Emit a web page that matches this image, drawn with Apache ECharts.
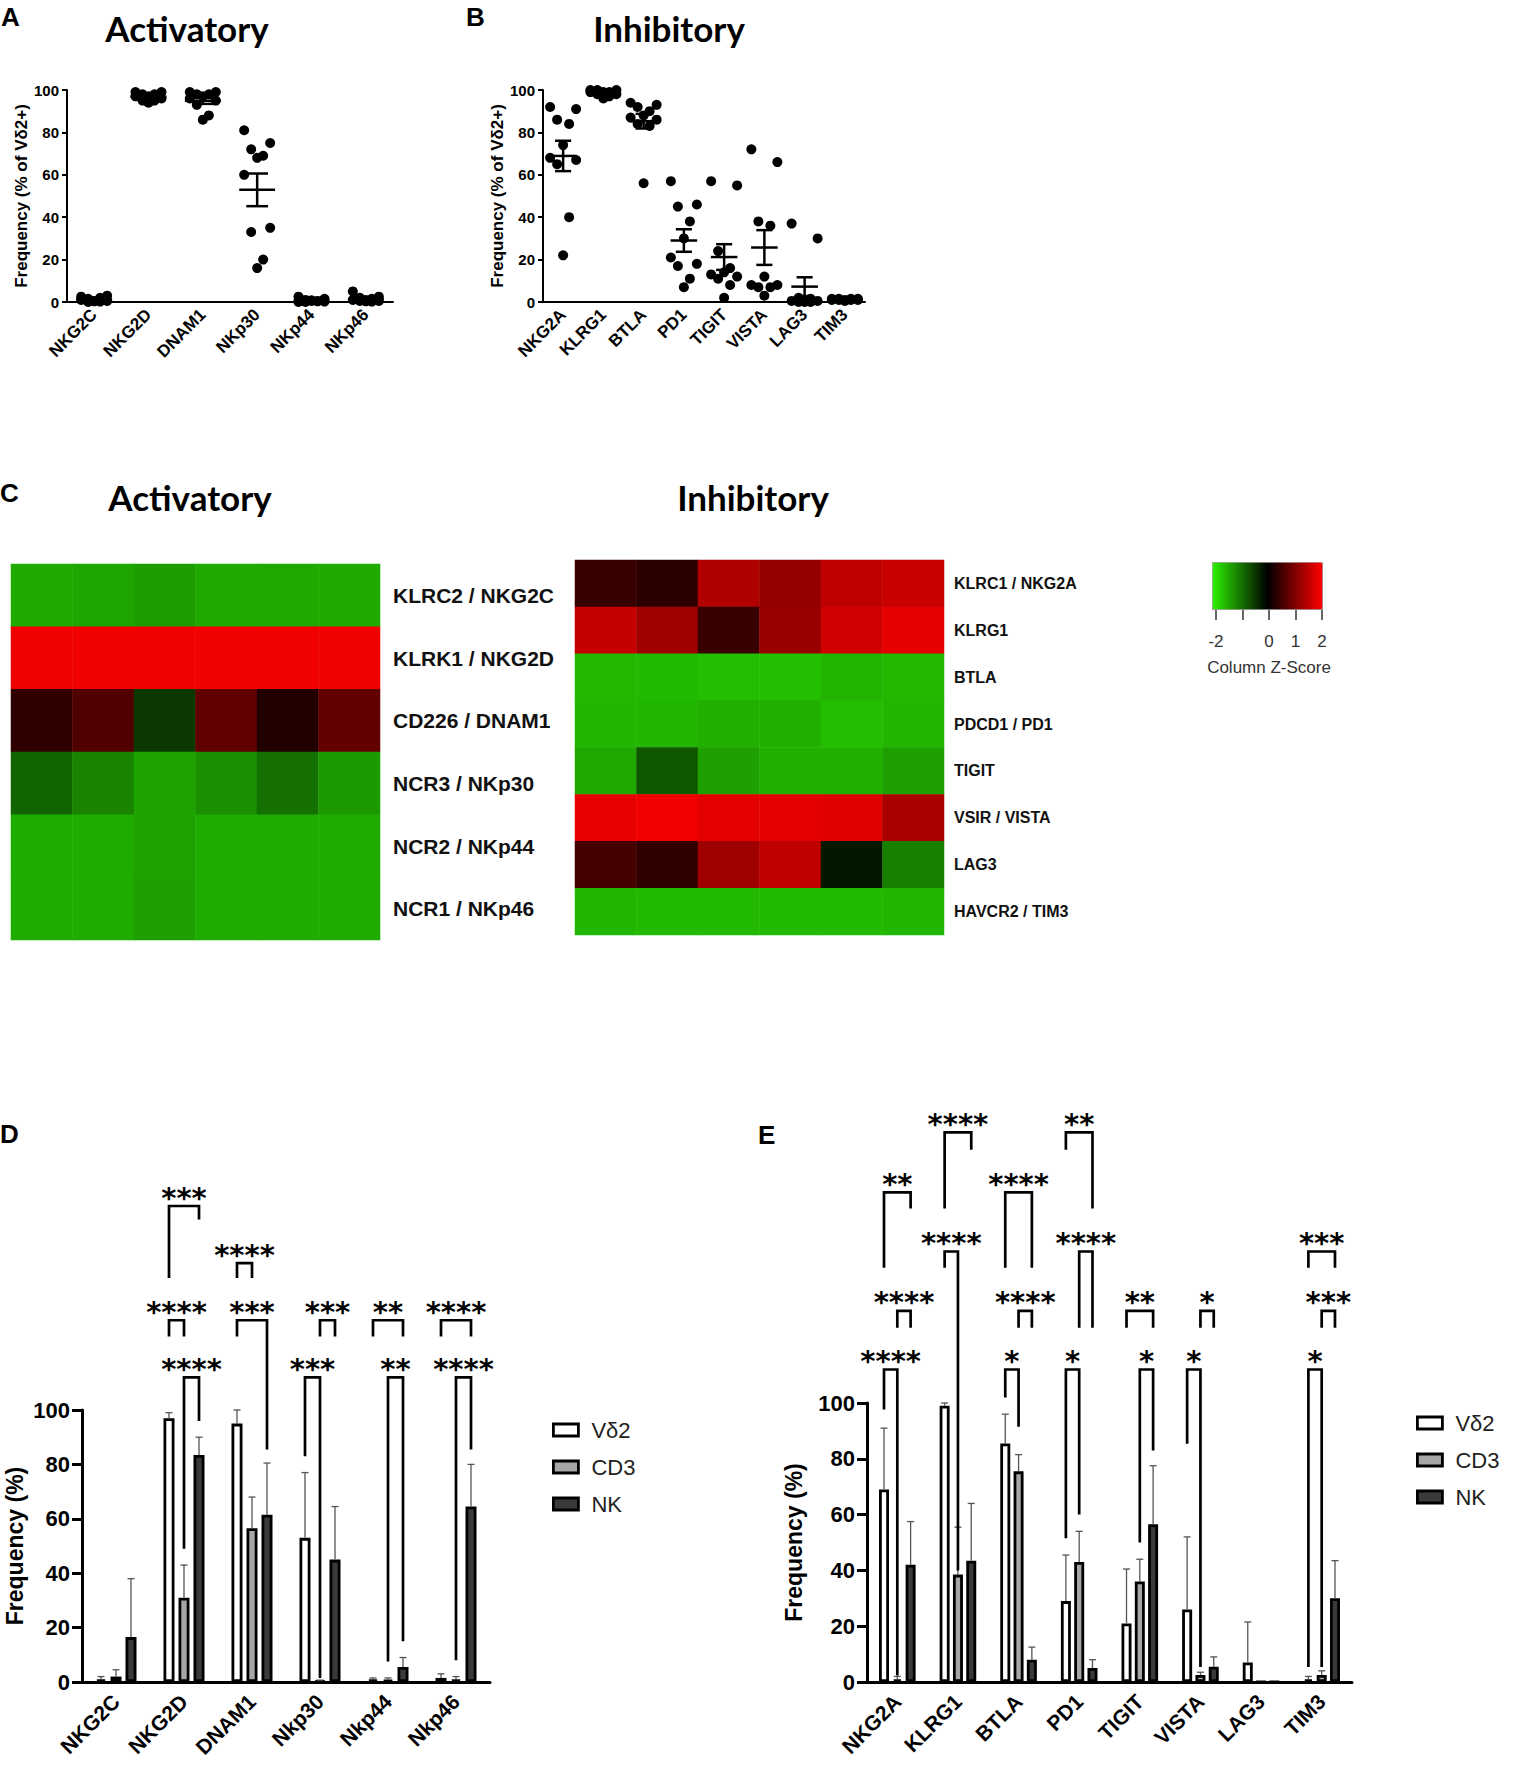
<!DOCTYPE html>
<html>
<head>
<meta charset="utf-8">
<script src="https://cdn.jsdelivr.net/npm/echarts@6/dist/echarts.min.js"></script>
<style>
html, body { margin: 0; padding: 0; background: #fff; }
#main { width: 1516px; height: 1775px; }
</style>
</head>
<body>
<div id="main"></div>
<script>
// ---------------- data ----------------
// A: activatory receptors, % of Vd2+ (10 donors each)
var actMarkers = ['NKG2C', 'NKG2D', 'DNAM1', 'NKp30', 'NKp44', 'NKp46'];
var actPoints = [
  [2.5, 3, 1.5, 2, 0.5, 1, 0.5, 0, 0.2, 0.3],
  [99, 99, 98, 98, 97, 97, 96, 95, 95, 94],
  [99, 99, 98, 98, 97, 96, 95, 93, 88, 86],
  [81, 75, 72, 69, 68, 60, 35, 33, 20, 16],
  [2.5, 1.5, 1, 0.5, 0.5, 0, 0.2, 0, 0.3, 0.8],
  [5, 2.5, 2, 1.5, 1, 1, 0.5, 0.5, 0.2, 0.3]
];
// B: inhibitory receptors
var inhMarkers = ['NKG2A', 'KLRG1', 'BTLA', 'PD1', 'TIGIT', 'VISTA', 'LAG3', 'TIM3'];
var inhPoints = [
  [92, 91, 86, 84, 74, 68, 67, 65, 40, 22],
  [100, 100, 100, 99, 99, 99, 98, 98, 97, 96],
  [94, 93, 92, 90, 88, 87, 86, 84, 83, 56],
  [57, 46, 45, 38, 30, 21, 18, 17, 11, 7],
  [57, 55, 24, 16, 14, 13, 12, 11, 8, 2],
  [72, 66, 38, 36, 12, 8, 8, 7, 7, 3],
  [37, 30, 2, 1.5, 1, 0.5, 0.5, 0, 0, 0],
  [1.5, 1.5, 1.5, 1.5, 1, 1, 1, 1, 1, 0.5]
];

// C: column z-scores (rows = genes, 6 donors)
var actGenes = ['KLRC2 / NKG2C', 'KLRK1 / NKG2D', 'CD226 / DNAM1', 'NCR3 / NKp30', 'NCR2 / NKp44', 'NCR1 / NKp46'];
var actZ = [
  [-1.42, -1.38, -1.32, -1.42, -1.40, -1.42],
  [1.88, 1.88, 1.88, 1.88, 1.88, 1.88],
  [0.38, 0.63, -0.47, 0.75, 0.27, 0.77],
  [-0.83, -1.10, -1.36, -1.19, -0.93, -1.28],
  [-1.43, -1.43, -1.35, -1.43, -1.43, -1.43],
  [-1.43, -1.43, -1.33, -1.43, -1.43, -1.43]
];
var inhGenes = ['KLRC1 / NKG2A', 'KLRG1', 'BTLA', 'PDCD1 / PD1', 'TIGIT', 'VSIR / VISTA', 'LAG3', 'HAVCR2 / TIM3'];
var inhZ = [
  [0.45, 0.35, 1.38, 1.18, 1.50, 1.57],
  [1.54, 1.25, 0.45, 1.19, 1.63, 1.80],
  [-1.53, -1.55, -1.58, -1.58, -1.50, -1.53],
  [-1.52, -1.52, -1.47, -1.47, -1.58, -1.52],
  [-1.40, -0.73, -1.33, -1.47, -1.47, -1.33],
  [1.82, 1.90, 1.80, 1.79, 1.76, 1.33],
  [0.56, 0.38, 1.25, 1.50, -0.20, -1.07],
  [-1.52, -1.55, -1.55, -1.55, -1.55, -1.52]
];
var donors = ['1', '2', '3', '4', '5', '6'];
var zTicks = [-2, -1, 0, 1, 2];

// D: activatory, mean + SD per cell type
var groups = ['Vδ2', 'CD3', 'NK'];
var dMarkers = ['NKG2C', 'NKG2D', 'DNAM1', 'Nkp30', 'Nkp44', 'Nkp46'];
var dVd2 = [1, 97, 95, 53, 1, 1.5];
var dVd2Err = [1, 2, 5, 24, 0.5, 1.5];
var dCD3 = [2, 31, 56.5, 0.5, 0.8, 1];
var dCD3Err = [2.5, 12, 11.5, 0.2, 0.7, 1];
var dNK = [16.5, 83.5, 61.5, 45, 5.5, 64.5];
var dNKErr = [21.5, 6.5, 19, 19.5, 3.5, 15.5];
// [category, from group, to group, bracket top, left leg end, right leg end, stars]
var dSig = [
  [1, 1, 2, 112, 49, 96, '****'],
  [1, 0, 1, 133, 127, 127, '****'],
  [1, 0, 2, 175, 148.5, 170, '***'],
  [2, 0, 1, 154, 148.5, 148.5, '****'],
  [2, 0, 2, 133, 127, 85.5, '***'],
  [3, 0, 1, 112, 83, 1.5, '***'],
  [3, 1, 2, 133, 127, 127, '***'],
  [4, 0, 2, 133, 127, 127, '**'],
  [4, 1, 2, 112, 7.5, 15, '**'],
  [5, 0, 2, 133, 127, 127, '****'],
  [5, 1, 2, 112, 8, 85.5, '****']
];

// E: inhibitory, mean + SD per cell type
var eMarkers = ['NKG2A', 'KLRG1', 'BTLA', 'PD1', 'TIGIT', 'VISTA', 'LAG3', 'TIM3'];
var eVd2 = [69, 99, 85.5, 29, 21, 26, 7, 1];
var eVd2Err = [22, 1, 10.5, 16.5, 19.5, 26, 14.5, 1];
var eCD3 = [1, 38.5, 75.5, 43, 36, 2.5, 0, 2.5];
var eCD3Err = [1, 17, 6, 11, 8, 1, 0, 1.5];
var eNK = [42, 43.5, 8, 5, 56.5, 5.5, 0, 30];
var eNKErr = [15.5, 20.5, 4.5, 3, 21, 3.5, 0, 13.5];
var eSig = [
  [0, 0, 1, 112, 97.7, 2.3, '****'],
  [0, 1, 2, 133, 127, 127, '****'],
  [0, 0, 2, 175.5, 148.5, 169.7, '**'],
  [1, 0, 1, 154.3, 148.5, 40, '****'],
  [1, 0, 2, 197, 169.7, 190.8, '****'],
  [2, 0, 1, 112, 102, 91.5, '*'],
  [2, 1, 2, 133, 127, 127, '****'],
  [2, 0, 2, 175.5, 148.5, 148.5, '****'],
  [3, 0, 1, 112, 51.5, 60, '*'],
  [3, 1, 2, 154.3, 127, 127, '****'],
  [3, 0, 2, 197, 190.8, 169.7, '**'],
  [4, 1, 2, 112, 50, 83, '*'],
  [4, 0, 2, 133, 127, 127, '**'],
  [5, 0, 1, 112, 85.4, 5.4, '*'],
  [5, 1, 2, 133, 127, 127, '*'],
  [7, 0, 1, 112, 5.4, 5.4, '*'],
  [7, 1, 2, 133, 127, 127, '***'],
  [7, 0, 2, 154.3, 148.5, 148.5, '***']
];

// ---------------- styling ----------------
var F = 'Liberation Sans';
var JITTER = [-13, 13, -6, 6, 0, -13, 13, -6, 6, 0];
var BAR_FILL = ['#ffffff', '#a6a6a6', '#3a3a3a'];
var D_BAR = { width: 11, gap: 0.364 };
var E_BAR = { width: 10, gap: 0.33 };

function meanSem(arr) {
  var n = arr.length, m = 0, s = 0;
  arr.forEach(function (v) { m += v; });
  m = m / n;
  arr.forEach(function (v) { s += (v - m) * (v - m); });
  return [m, Math.sqrt(s / (n - 1)) / Math.sqrt(n)];
}

function scatterData(points) {
  var res = [];
  points.forEach(function (list, i) {
    list.forEach(function (v, j) {
      res.push({ value: [i, v], symbolOffset: [JITTER[j % JITTER.length], 0] });
    });
  });
  return res;
}

function meanData(points) {
  return points.map(function (list, i) {
    var ms = meanSem(list);
    return [i, ms[0], ms[1]];
  });
}

function renderMeanSem(params, api) {
  var cat = api.value(0), m = api.value(1), e = api.value(2);
  var c = api.coord([cat, m]);
  var hi = api.coord([cat, m + e]);
  var lo = api.coord([cat, m - e]);
  var bw = api.size([1, 0])[0];
  var st = { stroke: '#000', lineWidth: 2.5 };
  return {
    type: 'group',
    children: [
      { type: 'line', shape: { x1: c[0] - bw * 0.33, y1: c[1], x2: c[0] + bw * 0.33, y2: c[1] }, style: st },
      { type: 'line', shape: { x1: c[0], y1: hi[1], x2: c[0], y2: lo[1] }, style: st },
      { type: 'line', shape: { x1: c[0] - bw * 0.2, y1: hi[1], x2: c[0] + bw * 0.2, y2: hi[1] }, style: st },
      { type: 'line', shape: { x1: c[0] - bw * 0.2, y1: lo[1], x2: c[0] + bw * 0.2, y2: lo[1] }, style: st }
    ]
  };
}

function heatData(z) {
  var res = [];
  z.forEach(function (row, r) {
    row.forEach(function (v, c) { res.push([c, r, v]); });
  });
  return res;
}

function errData(lists) {
  var res = [];
  lists.forEach(function (pair, g) {
    pair[0].forEach(function (v, i) { res.push([i, g, v, pair[1][i]]); });
  });
  return res;
}

function makeErrRender(bar) {
  var step = bar.width * (1 + bar.gap);
  return function (params, api) {
    var cat = api.value(0), g = api.value(1), v = api.value(2), e = api.value(3);
    if (!e) return null;
    var base = api.coord([cat, v]);
    var top = api.coord([cat, v + e]);
    var x = base[0] + (g - 1) * step;
    var st = { stroke: '#555', lineWidth: 1.3 };
    return {
      type: 'group',
      children: [
        { type: 'line', shape: { x1: x, y1: base[1], x2: x, y2: top[1] }, style: st },
        { type: 'line', shape: { x1: x - 3.5, y1: top[1], x2: x + 3.5, y2: top[1] }, style: st }
      ]
    };
  };
}

function makeSigRender(list, bar) {
  var step = bar.width * (1 + bar.gap);
  return function (params, api) {
    var s = list[params.dataIndex];
    var cx = api.coord([s[0], 0])[0];
    var xa = cx + (s[1] - 1) * step, xb = cx + (s[2] - 1) * step;
    var yt = api.coord([s[0], s[3]])[1];
    var ya = api.coord([s[0], s[4]])[1];
    var yb = api.coord([s[0], s[5]])[1];
    return {
      type: 'group',
      children: [
        { type: 'polyline', shape: { points: [[xa, ya], [xa, yt], [xb, yt], [xb, yb]] },
          style: { stroke: '#000', lineWidth: 2.7, fill: null, lineJoin: 'miter' } },
        { type: 'text', x: (xa + xb) / 2, y: yt + 6,
          style: { text: s[6], font: 'bold 29px "DejaVu Sans"', fill: '#000', textAlign: 'center', textVerticalAlign: 'bottom' } }
      ]
    };
  };
}

function dotXAxis(gi, data) {
  return {
    type: 'category', gridIndex: gi, data: data,
    axisLine: { lineStyle: { color: '#000', width: 2 } },
    axisTick: { alignWithLabel: true, length: 7, lineStyle: { color: '#000', width: 2 } },
    axisLabel: { interval: 0, rotate: 45, fontFamily: F, fontWeight: 'bold', fontSize: 17, color: '#000', margin: 10 }
  };
}
function dotYAxis(gi) {
  return {
    type: 'value', gridIndex: gi, min: 0, max: 100, interval: 20,
    name: 'Frequency (% of Vδ2+)', nameLocation: 'middle', nameGap: 36,
    nameTextStyle: { fontFamily: F, fontWeight: 'bold', fontSize: 17, color: '#000' },
    axisLine: { show: true, lineStyle: { color: '#000', width: 2 } },
    axisTick: { show: true, length: 5, lineStyle: { color: '#000', width: 2 } },
    axisLabel: { fontFamily: F, fontWeight: 'bold', fontSize: 15, color: '#000', margin: 8 },
    splitLine: { show: false }
  };
}
function barXAxis(gi, data) {
  return {
    type: 'category', gridIndex: gi, data: data,
    axisLine: { lineStyle: { color: '#000', width: 3 } },
    axisTick: { alignWithLabel: true, length: 12, lineStyle: { color: '#000', width: 3.5 } },
    axisLabel: { interval: 0, rotate: 45, fontFamily: F, fontWeight: 'bold', fontSize: 21, color: '#000', margin: 16 }
  };
}
function barYAxis(gi, gap) {
  return {
    type: 'value', gridIndex: gi, min: 0, max: 100, interval: 20,
    name: 'Frequency (%)', nameLocation: 'middle', nameGap: gap,
    nameTextStyle: { fontFamily: F, fontWeight: 'bold', fontSize: 23, color: '#000' },
    axisLine: { show: true, lineStyle: { color: '#000', width: 3 } },
    axisTick: { show: true, length: 10, lineStyle: { color: '#000', width: 3 } },
    axisLabel: { fontFamily: F, fontWeight: 'bold', fontSize: 22, color: '#000', margin: 12 },
    splitLine: { show: false }
  };
}
function heatXAxis(gi) {
  return { type: 'category', gridIndex: gi, data: donors, show: false };
}
function heatYAxis(gi, genes, size, margin) {
  return {
    type: 'category', gridIndex: gi, data: genes, inverse: true, position: 'right',
    axisLine: { show: false }, axisTick: { show: false },
    axisLabel: { fontFamily: F, fontWeight: 'bold', fontSize: size, color: '#111', margin: margin }
  };
}

function barSeries(name, gi, values, fill, bar) {
  return {
    name: name, type: 'bar', xAxisIndex: gi, yAxisIndex: gi, data: values,
    barWidth: bar.width, barGap: (bar.gap * 100) + '%',
    itemStyle: { color: fill, borderColor: '#000', borderWidth: 2.8 }
  };
}

var dotStyle = { color: '#000', opacity: 1 };
var series = [
  { type: 'scatter', xAxisIndex: 0, yAxisIndex: 0, data: scatterData(actPoints), symbol: 'circle', symbolSize: 10, itemStyle: dotStyle },
  { type: 'custom', xAxisIndex: 0, yAxisIndex: 0, data: meanData(actPoints), renderItem: renderMeanSem, clip: false, z: 3 },
  { type: 'scatter', xAxisIndex: 1, yAxisIndex: 1, data: scatterData(inhPoints), symbol: 'circle', symbolSize: 10, itemStyle: dotStyle },
  { type: 'custom', xAxisIndex: 1, yAxisIndex: 1, data: meanData(inhPoints), renderItem: renderMeanSem, clip: false, z: 3 },
  { type: 'heatmap', xAxisIndex: 2, yAxisIndex: 2, data: heatData(actZ), itemStyle: { borderWidth: 0 } },
  { type: 'heatmap', xAxisIndex: 3, yAxisIndex: 3, data: heatData(inhZ), itemStyle: { borderWidth: 0 } },
  barSeries(groups[0], 4, dVd2, BAR_FILL[0], D_BAR),
  barSeries(groups[1], 4, dCD3, BAR_FILL[1], D_BAR),
  barSeries(groups[2], 4, dNK, BAR_FILL[2], D_BAR),
  { type: 'custom', xAxisIndex: 4, yAxisIndex: 4, clip: false, z: 3,
    data: errData([[dVd2, dVd2Err], [dCD3, dCD3Err], [dNK, dNKErr]]), renderItem: makeErrRender(D_BAR) },
  { type: 'custom', xAxisIndex: 4, yAxisIndex: 4, clip: false, z: 4,
    data: dSig.map(function (s) { return [s[0], s[3]]; }), renderItem: makeSigRender(dSig, D_BAR) },
  barSeries(groups[0], 5, eVd2, BAR_FILL[0], E_BAR),
  barSeries(groups[1], 5, eCD3, BAR_FILL[1], E_BAR),
  barSeries(groups[2], 5, eNK, BAR_FILL[2], E_BAR),
  { type: 'custom', xAxisIndex: 5, yAxisIndex: 5, clip: false, z: 3,
    data: errData([[eVd2, eVd2Err], [eCD3, eCD3Err], [eNK, eNKErr]]), renderItem: makeErrRender(E_BAR) },
  { type: 'custom', xAxisIndex: 5, yAxisIndex: 5, clip: false, z: 4,
    data: eSig.map(function (s) { return [s[0], s[3]]; }), renderItem: makeSigRender(eSig, E_BAR) }
];

function label(text, x, y, font, align) {
  return { type: 'text', x: x, y: y, style: { text: text, font: font, fill: '#000', textAlign: align || 'left', textVerticalAlign: 'top' } };
}
var LETTER = 'bold 26px "Liberation Sans"';
var TITLE = 'bold 35px Lato';

var option = {
  animation: false,
  backgroundColor: '#fff',
  textStyle: { fontFamily: F },
  graphic: [
    label('A', 1, 4, LETTER),
    label('B', 466, 4, LETTER),
    label('C', 0, 480, LETTER),
    label('D', 0, 1121, LETTER),
    label('E', 758, 1122, LETTER),
    label('Activatory', 187, 10, TITLE, 'center'),
    label('Inhibitory', 669, 10, TITLE, 'center'),
    label('Activatory', 190, 479, TITLE, 'center'),
    label('Inhibitory', 753, 479, TITLE, 'center')
  ],
  grid: [
    { left: 67, top: 90, width: 326, height: 212 },
    { left: 543, top: 90, width: 322, height: 212 },
    { left: 11, top: 564, width: 369, height: 376 },
    { left: 575, top: 560, width: 369, height: 375 },
    { left: 82, top: 1410, width: 408, height: 272 },
    { left: 867, top: 1403, width: 485, height: 279 },
    { left: 1216, top: 562, width: 106, height: 47 }
  ],
  xAxis: [
    dotXAxis(0, actMarkers),
    dotXAxis(1, inhMarkers),
    heatXAxis(2),
    heatXAxis(3),
    barXAxis(4, dMarkers),
    barXAxis(5, eMarkers),
    {
      type: 'value', gridIndex: 6, min: zTicks[0], max: zTicks[zTicks.length - 1], interval: 1,
      name: 'Column Z-Score', nameLocation: 'middle', nameGap: 50,
      nameTextStyle: { fontFamily: F, fontSize: 17, color: '#333' },
      axisLine: { show: false },
      axisTick: { show: true, length: 11, lineStyle: { color: '#333', width: 1.5 } },
      axisLabel: { fontFamily: F, fontSize: 17, color: '#333', margin: 24,
        formatter: function (v) { return v === -1 ? '' : String(v); } },
      splitLine: { show: false }
    }
  ],
  yAxis: [
    dotYAxis(0),
    dotYAxis(1),
    heatYAxis(2, actGenes, 21, 13),
    heatYAxis(3, inhGenes, 16, 10),
    barYAxis(4, 56),
    barYAxis(5, 62),
    { type: 'value', gridIndex: 6, min: 0, max: 1, show: false }
  ],
  visualMap: {
    type: 'continuous', min: -2, max: 2, seriesIndex: [4, 5],
    orient: 'horizontal', left: 1212, top: 562, itemWidth: 47, itemHeight: 110,
    calculable: false, hoverLink: false, padding: 0,
    borderColor: '#999', borderWidth: 1,
    inRange: { color: ['#2cf000', '#000000', '#ff0000'] }
  },
  legend: [
    { orient: 'vertical', left: 552, top: 1419, padding: 0, data: groups, icon: 'rect', selectedMode: false,
      itemWidth: 25, itemHeight: 12, itemGap: 15,
      itemStyle: { borderColor: '#000', borderWidth: 2.8 },
      textStyle: { fontFamily: F, fontSize: 22, color: '#222', padding: [0, 0, 0, 8] } },
    { orient: 'vertical', left: 1416, top: 1412, padding: 0, data: groups, icon: 'rect', selectedMode: false,
      itemWidth: 25, itemHeight: 12, itemGap: 15,
      itemStyle: { borderColor: '#000', borderWidth: 2.8 },
      textStyle: { fontFamily: F, fontSize: 22, color: '#222', padding: [0, 0, 0, 8] } }
  ],
  series: series
};

var chart = echarts.init(document.getElementById('main'), null, { renderer: 'svg' });
chart.setOption(option);
</script>
</body>
</html>
